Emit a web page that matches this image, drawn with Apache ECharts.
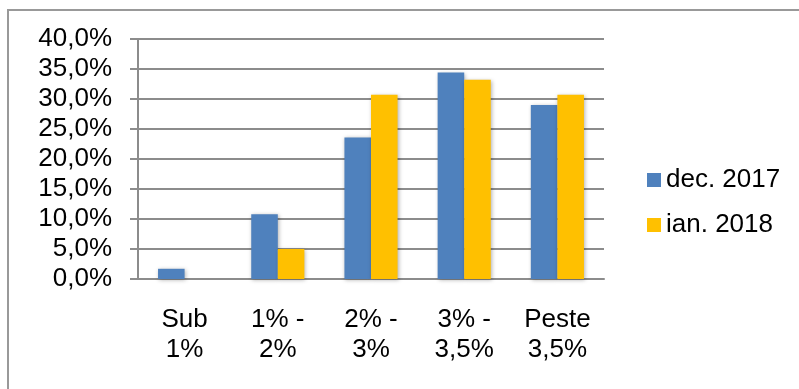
<!DOCTYPE html>
<html>
<head>
<meta charset="utf-8">
<script src="https://cdn.jsdelivr.net/npm/echarts@6/dist/echarts.min.js"></script>
<style>
  html, body { margin: 0; padding: 0; background: #fff; }
  #chart { width: 799px; height: 389px; }
</style>
</head>
<body>
<div id="chart"></div>
<script>
// categorii și valori
const categories = ['Sub\n1%', '1% -\n2%', '2% -\n3%', '3% -\n3,5%', 'Peste\n3,5%']
const seriesNames = ['dec. 2017', 'ian. 2018']
const dec2017 = [1.7, 10.8, 23.6, 34.4, 29.0]
const ian2018 = [0, 5.0, 30.7, 33.2, 30.7]

const fontFamily = '"Liberation Sans", Arial, sans-serif'
const gridColor = '#8c8c8c'

const chart = echarts.init(document.getElementById('chart'))

const barStyle = (color) => ({
  color: color,
  shadowBlur: 4,
  shadowColor: 'rgba(0,0,0,0.3)',
  shadowOffsetX: 1,
  shadowOffsetY: 1
})

const option = {
  animation: false,
  backgroundColor: '#fff',
  textStyle: { fontFamily: fontFamily, color: '#000' },
  graphic: [
    {
      type: 'rect',
      shape: { x: 8, y: 10, width: 900, height: 500 },
      style: { fill: 'none', stroke: '#999', lineWidth: 2 },
      silent: true
    }
  ],
  grid: { left: 138, top: 39, width: 466, height: 240 },
  legend: {
    orient: 'vertical',
    left: 642,
    top: 162,
    itemWidth: 14,
    itemHeight: 14,
    itemGap: 19,
    icon: 'rect',
    textStyle: { fontSize: 26, fontFamily: fontFamily, color: '#000' },
    data: seriesNames
  },
  xAxis: {
    type: 'category',
    data: categories,
    axisLine: { lineStyle: { color: gridColor, width: 2 } },
    axisTick: { length: 8, lineStyle: { color: gridColor, width: 2 } },
    axisLabel: {
      fontSize: 26,
      lineHeight: 30,
      margin: 26,
      color: '#000',
      fontFamily: fontFamily,
      interval: 0
    }
  },
  yAxis: {
    type: 'value',
    min: 0,
    max: 40,
    interval: 5,
    axisLine: { show: true, lineStyle: { color: gridColor, width: 2 } },
    axisTick: { show: true, length: 8, lineStyle: { color: gridColor, width: 2 } },
    splitLine: { lineStyle: { color: gridColor, width: 2 } },
    axisLabel: {
      fontSize: 26,
      margin: 26,
      color: '#000',
      fontFamily: fontFamily,
      formatter: (v) => v.toFixed(1).replace('.', ',') + '%'
    }
  },
  series: [
    {
      name: seriesNames[0],
      type: 'bar',
      data: dec2017,
      barGap: '0%',
      barCategoryGap: '43%',
      itemStyle: barStyle('#4f81bd')
    },
    {
      name: seriesNames[1],
      type: 'bar',
      data: ian2018,
      barGap: '0%',
      barCategoryGap: '43%',
      itemStyle: barStyle('#ffc000')
    }
  ]
}

chart.setOption(option)
</script>
</body>
</html>
